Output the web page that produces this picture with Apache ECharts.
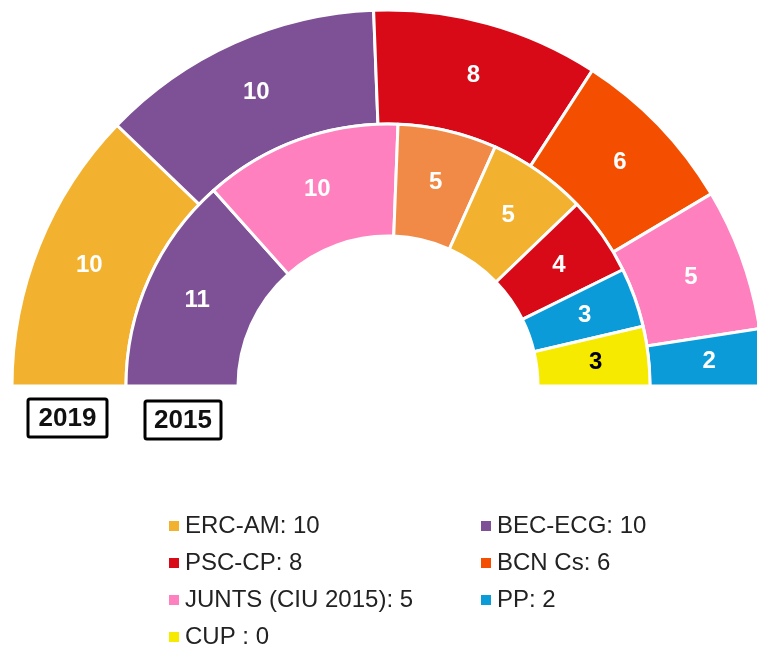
<!DOCTYPE html>
<html>
<head>
<meta charset="utf-8">
<script src="https://cdn.jsdelivr.net/npm/echarts@6/dist/echarts.min.js"></script>
<style>
  html, body { margin: 0; padding: 0; background: #fff; }
  #chart { width: 757px; height: 650px; }
</style>
</head>
<body>
<div id="chart"></div>
<script>
// 2019 (outer ring), clockwise from the left
const parties2019 = ['ERC-AM', 'BEC-ECG', 'PSC-CP', 'BCN Cs', 'JUNTS (CIU 2015)', 'PP'];
const seats2019 = [10, 10, 8, 6, 5, 2];
const colors2019 = ['#f2b22f', '#7e5096', '#d90a18', '#f44f00', '#ff80bf', '#0b9bd8'];

// 2015 (inner ring)
const parties2015 = ['BEC-ECG', 'JUNTS (CIU 2015)', 'Cs 2015', 'ERC-AM', 'PSC-CP', 'PP', 'CUP'];
const seats2015 = [11, 10, 5, 5, 4, 3, 3];
const colors2015 = ['#7e5096', '#ff80bf', '#f08a46', '#f2b22f', '#d90a18', '#0b9bd8', '#f5ea00'];

// legend
const legendLeft = ['ERC-AM', 'PSC-CP', 'JUNTS (CIU 2015)', 'CUP'];
const legendRight = ['BEC-ECG', 'BCN Cs', 'PP'];
const legendSeats = { 'ERC-AM': 10, 'BEC-ECG': 10, 'PSC-CP': 8, 'BCN Cs': 6, 'JUNTS (CIU 2015)': 5, 'PP': 2, 'CUP': 0 };

const totalSeats = 41;
const font = 'Liberation Sans, Arial, sans-serif';

function ringData(names, values, colors) {
  const items = names.map((n, i) => ({
    name: n,
    value: values[i],
    itemStyle: { color: colors[i] },
    label: n === 'CUP' ? { color: '#000' } : undefined
  }));
  // hidden lower half
  items.push({
    name: '',
    value: totalSeats,
    itemStyle: { color: 'rgba(0,0,0,0)', borderWidth: 0 },
    label: { show: false },
    emphasis: { disabled: true },
    tooltip: { show: false }
  });
  return items;
}

const chart = echarts.init(document.getElementById('chart'));

function ring(name, radius, data) {
  return {
    name: name,
    type: 'pie',
    center: [388, 386],
    radius: radius,
    startAngle: 180,
    clockwise: true,
    avoidLabelOverlap: false,
    animation: false,
    itemStyle: { borderColor: '#fff', borderWidth: 3 },
    label: {
      show: true,
      position: 'inside',
      formatter: '{c}',
      color: '#fff',
      fontFamily: font,
      fontWeight: 'bold',
      fontSize: 24
    },
    labelLine: { show: false },
    data: data
  };
}

const legendText = {
  fontFamily: font,
  fontSize: 24,
  lineHeight: 24,
  color: '#222'
};

function legendColumn(names, left) {
  return {
    orient: 'vertical',
    left: left,
    top: 514,
    height: 160,
    padding: 0,
    data: names,
    itemWidth: 12,
    itemHeight: 12,
    itemGap: 13,
    icon: 'rect',
    selectedMode: false,
    formatter: n => n === 'CUP' ? 'CUP : 0' : n + ': ' + legendSeats[n],
    textStyle: legendText
  };
}

const option = {
  backgroundColor: '#fff',
  legend: [
    legendColumn(legendLeft, 167),
    legendColumn(legendRight, 479)
  ],
  series: [
    ring('2019', [262, 376], ringData(parties2019, seats2019, colors2019)),
    ring('2015', [150, 262], ringData(parties2015, seats2015, colors2015))
  ],
  graphic: [
    {
      type: 'rect',
      shape: { x: 28, y: 399, width: 79, height: 38, r: 2 },
      style: { fill: '#fff', stroke: '#000', lineWidth: 3 }
    },
    {
      type: 'text',
      x: 67.5, y: 419,
      style: { text: '2019', font: 'bold 26px ' + font, fill: '#111', align: 'center', verticalAlign: 'middle' }
    },
    {
      type: 'rect',
      shape: { x: 145, y: 401, width: 76, height: 38, r: 2 },
      style: { fill: '#fff', stroke: '#000', lineWidth: 3 }
    },
    {
      type: 'text',
      x: 183, y: 421,
      style: { text: '2015', font: 'bold 26px ' + font, fill: '#111', align: 'center', verticalAlign: 'middle' }
    }
  ]
};

chart.setOption(option);
</script>
</body>
</html>
